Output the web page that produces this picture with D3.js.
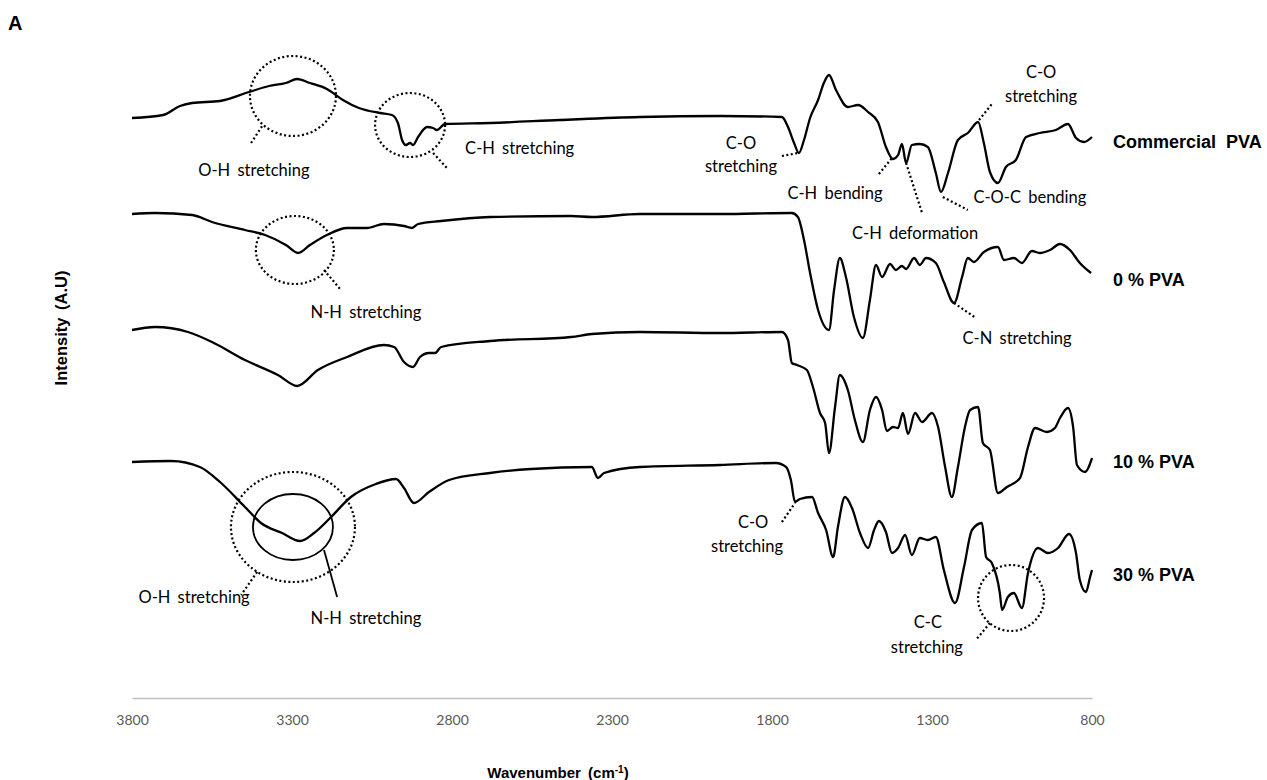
<!DOCTYPE html>
<html>
<head>
<meta charset="utf-8">
<script src="https://cdn.jsdelivr.net/npm/d3@7"></script>
<style>
  body { margin: 0; background: #fff; }
  .note { font-family: Lato, "Open Sans", sans-serif; font-size: 16.5px; fill: #000; word-spacing: 3px; }
  .bold { font-family: "Liberation Sans", Arial, sans-serif; font-weight: bold; fill: #000; }
</style>
</head>
<body>
<script>
// wavenumber (cm-1) and intensity (A.U)
var commercialWn = [3800,3703,3650,3612,3525,3434,3372,3319,3284,3244,3191,3141,3091,3025,2988,2969,2956,2944,2931,2922,2906,2878,2859,2847,2822,2681,2463,2213,1963,1769,1750,1731,1716,1700,1681,1656,1638,1622,1600,1563,1531,1500,1469,1444,1422,1406,1394,1381,1363,1338,1313,1288,1272,1250,1219,1188,1156,1138,1119,1094,1069,1038,1006,963,913,875,850,825,800];
var commercialVal = [5.56,5.59,5.68,5.71,5.73,5.82,5.88,5.91,5.95,5.91,5.85,5.74,5.66,5.61,5.59,5.51,5.34,5.29,5.31,5.29,5.37,5.47,5.46,5.44,5.50,5.51,5.54,5.57,5.58,5.57,5.47,5.31,5.21,5.34,5.56,5.74,5.91,5.99,5.84,5.67,5.69,5.62,5.52,5.27,5.15,5.19,5.30,5.11,5.29,5.30,5.27,5.01,4.82,5.01,5.34,5.41,5.52,5.31,5.02,4.91,5.07,5.14,5.37,5.41,5.44,5.50,5.36,5.32,5.37];

var pva0Wn = [3800,3728,3612,3550,3447,3384,3319,3281,3244,3191,3128,3066,3013,2950,2925,2906,2834,2681,2428,2363,2213,1963,1738,1719,1700,1681,1656,1622,1606,1588,1569,1544,1516,1494,1475,1456,1431,1413,1394,1381,1356,1338,1319,1288,1263,1231,1206,1188,1169,1138,1094,1075,1044,1019,988,963,931,900,869,838,803];
var pva0Val = [4.60,4.61,4.59,4.52,4.44,4.39,4.29,4.21,4.29,4.39,4.46,4.46,4.50,4.48,4.46,4.50,4.53,4.57,4.58,4.57,4.60,4.60,4.61,4.57,4.34,4.01,3.64,3.44,3.84,4.16,3.97,3.57,3.36,3.74,4.09,3.97,4.10,4.04,4.08,4.05,4.16,4.09,4.16,4.11,3.92,3.71,3.97,4.16,4.12,4.22,4.27,4.14,4.16,4.11,4.23,4.21,4.24,4.30,4.24,4.11,4.01];

var pva10Wn = [3800,3728,3625,3550,3447,3344,3284,3219,3128,3013,2981,2950,2922,2900,2872,2853,2834,2681,2428,2363,2213,1963,1769,1750,1738,1722,1691,1672,1650,1634,1622,1603,1588,1563,1541,1516,1494,1475,1456,1441,1422,1406,1391,1375,1353,1331,1300,1281,1259,1238,1219,1197,1181,1156,1141,1119,1094,1066,1025,1000,978,941,916,900,875,859,847,822,800];
var pva10Val = [3.44,3.47,3.42,3.32,3.14,2.99,2.88,3.04,3.17,3.29,3.27,3.12,3.07,3.17,3.21,3.21,3.27,3.33,3.37,3.40,3.42,3.41,3.42,3.34,3.11,3.09,3.04,2.87,2.61,2.51,2.21,2.67,2.99,2.84,2.54,2.32,2.64,2.77,2.64,2.43,2.47,2.46,2.61,2.40,2.61,2.52,2.61,2.47,2.07,1.77,2.07,2.47,2.64,2.67,2.31,2.24,1.81,1.87,1.96,2.27,2.46,2.42,2.46,2.56,2.66,2.47,2.09,2.02,2.16];

var pva30Wn = [3800,3678,3588,3525,3447,3397,3331,3275,3231,3178,3116,3038,2975,2950,2919,2872,2809,2681,2553,2363,2344,2325,2213,1963,1788,1756,1741,1728,1713,1675,1656,1631,1609,1594,1572,1550,1525,1500,1481,1466,1444,1425,1406,1384,1363,1338,1313,1288,1263,1228,1200,1175,1144,1131,1113,1088,1081,1063,1044,1019,1000,969,938,906,872,850,838,819,806,800];
var pva30Val = [2.12,2.13,2.07,1.92,1.67,1.51,1.41,1.33,1.41,1.57,1.77,1.90,1.95,1.86,1.71,1.82,1.94,2.01,2.05,2.07,1.96,2.01,2.07,2.09,2.11,2.07,1.94,1.72,1.75,1.77,1.61,1.44,1.17,1.47,1.77,1.66,1.41,1.26,1.44,1.53,1.42,1.21,1.26,1.39,1.19,1.36,1.34,1.37,1.04,0.71,1.07,1.44,1.51,1.17,1.11,0.81,0.64,0.77,0.81,0.66,1.01,1.26,1.21,1.26,1.40,1.21,0.94,0.82,0.97,1.04];

var seriesNames = ["Commercial  PVA", "0 % PVA", "10 % PVA", "30 % PVA"];
var seriesLabelVal = [5.32, 3.94, 2.12, 0.99];
var xTicks = [3800, 3300, 2800, 2300, 1800, 1300, 800];

// band assignments: circles, leader lines, texts (wavenumber, intensity)
var circles = [
  {wn: 3297, v: 5.78, rx: 43, ry: 40, solid: false},
  {wn: 2931, v: 5.49, rx: 35, ry: 32, solid: false},
  {wn: 3291, v: 4.24, rx: 39, ry: 34, solid: false},
  {wn: 3297, v: 1.47, rx: 62, ry: 55, solid: false},
  {wn: 3297, v: 1.47, rx: 40, ry: 33, solid: true},
  {wn: 1053, v: 0.76, rx: 33, ry: 33, solid: false}
];
var leaders = [
  [3428, 5.31, 3391, 5.49, false],
  [2859, 5.21, 2816, 5.06, false],
  [1769, 5.18, 1719, 5.21, false],
  [1466, 5.00, 1425, 5.16, false],
  [1381, 5.11, 1331, 4.61, false],
  [1266, 4.77, 1188, 4.64, false],
  [1153, 5.54, 1113, 5.70, false],
  [3200, 4.04, 3147, 3.84, false],
  [1231, 3.71, 1163, 3.56, false],
  [3409, 1.02, 3459, 0.79, false],
  [3200, 1.24, 3159, 0.77, true],
  [1769, 1.52, 1728, 1.71, false],
  [1119, 0.51, 1163, 0.34, false]
];
var notes = [
  ["O-H stretching", 3419, 5.04, "middle"],
  ["C-H stretching", 2759, 5.26, "start"],
  ["C-O", 1897, 5.31, "middle"],
  ["stretching", 1897, 5.08, "middle"],
  ["C-H bending", 1603, 4.81, "middle"],
  ["C-H deformation", 1353, 4.41, "middle"],
  ["C-O-C bending", 994, 4.77, "middle"],
  ["C-O", 959, 6.02, "middle"],
  ["stretching", 959, 5.78, "middle"],
  ["N-H stretching", 3069, 3.62, "middle"],
  ["C-N stretching", 1034, 3.36, "middle"],
  ["O-H stretching", 3606, 0.77, "middle"],
  ["N-H stretching", 3069, 0.56, "middle"],
  ["C-O", 1859, 1.52, "middle"],
  ["stretching", 1878, 1.28, "middle"],
  ["C-C", 1313, 0.52, "middle"],
  ["stretching", 1316, 0.27, "middle"]
];

var svg = d3.select("body").append("svg")
  .attr("width", 1267)
  .attr("height", 780);

var x = d3.scaleLinear().domain([3800, 800]).range([132, 1092]);
var y = d3.scaleLinear().domain([0, 6]).range([674, 74]);
var axisTop = 698;

// x axis
var xAxis = svg.append("g")
  .attr("transform", "translate(0," + axisTop + ")")
  .call(d3.axisBottom(x).tickValues(xTicks).tickSize(0).tickPadding(17).tickFormat(d3.format("d")));
xAxis.select(".domain").attr("stroke", "#bfbfbf").attr("stroke-width", 1.5);
xAxis.selectAll("text")
  .attr("fill", "#595959")
  .style("font-family", "Lato, 'Open Sans', sans-serif")
  .style("font-size", "14px");

// spectra
var spectra = [
  [commercialWn, commercialVal],
  [pva0Wn, pva0Val],
  [pva10Wn, pva10Val],
  [pva30Wn, pva30Val]
];
var line = d3.line()
  .x(function(d) { return x(d[0]); })
  .y(function(d) { return y(d[1]); })
  .curve(d3.curveMonotoneX);

spectra.forEach(function(s, i) {
  var pts = s[0].map(function(w, j) { return [w, s[1][j]]; });
  svg.append("path")
    .attr("fill", "none")
    .attr("stroke", "#000")
    .attr("stroke-width", 2.3)
    .attr("stroke-linejoin", "round")
    .attr("d", line(pts));
  svg.append("text")
    .attr("class", "bold")
    .attr("x", x(800) + 21)
    .attr("y", y(seriesLabelVal[i]))
    .attr("dy", "0.35em")
    .style("font-size", "18px")
    .style("white-space", "pre")
    .text(seriesNames[i]);
});

// annotations
svg.selectAll(".ring").data(circles).enter().append("ellipse")
  .attr("cx", function(d) { return x(d.wn); })
  .attr("cy", function(d) { return y(d.v); })
  .attr("rx", function(d) { return d.rx; })
  .attr("ry", function(d) { return d.ry; })
  .attr("fill", "none")
  .attr("stroke", "#000")
  .attr("stroke-width", function(d) { return d.solid ? 1.8 : 2.2; })
  .attr("stroke-dasharray", function(d) { return d.solid ? null : "2,2.5"; });

svg.selectAll(".lead").data(leaders).enter().append("line")
  .attr("x1", function(d) { return x(d[0]); })
  .attr("y1", function(d) { return y(d[1]); })
  .attr("x2", function(d) { return x(d[2]); })
  .attr("y2", function(d) { return y(d[3]); })
  .attr("stroke", "#000")
  .attr("stroke-width", function(d) { return d[4] ? 1.8 : 2.2; })
  .attr("stroke-dasharray", function(d) { return d[4] ? null : "2,2.5"; });

svg.selectAll(".note").data(notes).enter().append("text")
  .attr("class", "note")
  .attr("x", function(d) { return x(d[1]); })
  .attr("y", function(d) { return y(d[2]); })
  .attr("dy", "0.35em")
  .attr("text-anchor", function(d) { return d[3]; })
  .text(function(d) { return d[0]; });

// titles
svg.append("text")
  .attr("class", "bold")
  .attr("x", 8)
  .attr("y", 30)
  .style("font-size", "20px")
  .text("A");

svg.append("text")
  .attr("class", "bold")
  .attr("transform", "translate(61,328) rotate(-90)")
  .attr("text-anchor", "middle")
  .attr("dy", "0.35em")
  .style("font-size", "16.5px")
  .style("word-spacing", "3px")
  .text("Intensity (A.U)");

var xt = svg.append("text")
  .attr("class", "bold")
  .attr("x", 558)
  .attr("y", 778)
  .attr("text-anchor", "middle")
  .style("font-size", "15px")
  .style("word-spacing", "3px");
xt.append("tspan").text("Wavenumber (cm");
xt.append("tspan").attr("dy", -5).style("font-size", "10px").text("-1");
xt.append("tspan").attr("dy", 5).text(")");
</script>
</body>
</html>
